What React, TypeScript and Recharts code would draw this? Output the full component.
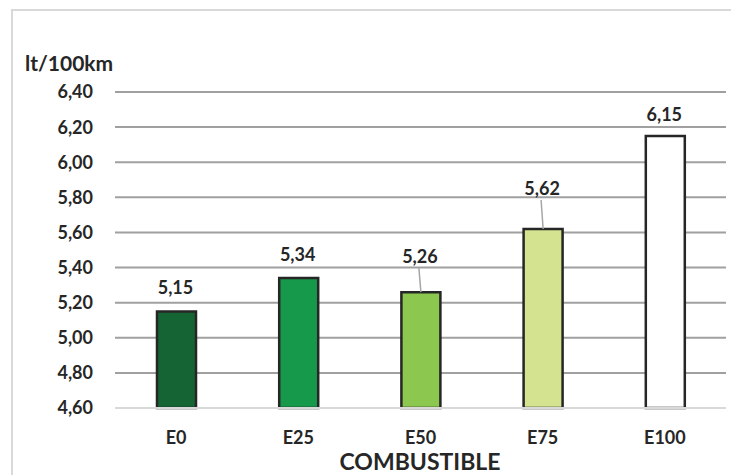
import React from "react";
import { BarChart, Bar, XAxis, YAxis, CartesianGrid, Cell, LabelList } from "recharts";

const categories = ["E0", "E25", "E50", "E75", "E100"];
const consumption = [5.15, 5.34, 5.26, 5.62, 6.15];
const yTicks = [4.6, 4.8, 5.0, 5.2, 5.4, 5.6, 5.8, 6.0, 6.2, 6.4];

const barColors = ["#156434", "#16994a", "#8cc74f", "#d3e38f", "#ffffff"];
const labelOffsets = [24, 24, 36, 41, 22];
const leaderLines = [false, false, true, true, false];

const data = categories.map((c, i) => ({ name: c, value: consumption[i] }));

const FONT = "Lato, 'Open Sans', sans-serif";
const fmt = (v: number) => v.toFixed(2).replace(".", ",");

const ValueLabel = (props: any) => {
  const { x, y, width, value, index } = props;
  const cx = x + width / 2;
  const ly = y - labelOffsets[index];
  return (
    <g>
      {leaderLines[index] && (
        <line x1={cx - 2} y1={ly + 12} x2={cx} y2={y} stroke="#a6a6a6" strokeWidth={1.5} />
      )}
      <text
        x={cx - 1}
        y={ly}
        textAnchor="middle"
        dominantBaseline="central"
        fontFamily={FONT}
        fontWeight={700}
        fontSize={18}
        fill="#262626"
      >
        {fmt(value)}
      </text>
    </g>
  );
};

export default function App() {
  return (
    <div style={{ position: "absolute", left: 0, top: 0, width: 731, height: 475, background: "#fff" }}>
      <div
        style={{
          position: "absolute",
          left: 11,
          top: 9,
          width: 740,
          height: 480,
          border: "2px solid #d9d9d9",
          boxSizing: "border-box",
        }}
      />
      <BarChart
        width={731}
        height={475}
        data={data}
        margin={{ top: 92, right: 5, bottom: 0, left: 0 }}
        style={{ position: "absolute", left: 0, top: 0 }}
      >
        <CartesianGrid vertical={false} stroke="#a0a0a0" strokeWidth={2} />
        <XAxis
          dataKey="name"
          height={67}
          axisLine={{ stroke: "#d9d9d9", strokeWidth: 2 }}
          tickLine={false}
          tickSize={0}
          tickMargin={23}
          tick={{ fontFamily: FONT, fontWeight: 700, fontSize: 18, fill: "#262626" }}
        />
        <YAxis
          domain={[4.6, 6.4]}
          ticks={yTicks}
          width={115}
          axisLine={false}
          tickLine={false}
          tickSize={0}
          tickMargin={22}
          tickFormatter={fmt}
          tick={{ fontFamily: FONT, fontWeight: 700, fontSize: 18, fill: "#262626" }}
        />
        <Bar dataKey="value" barSize={39} stroke="#262626" strokeWidth={2.5} isAnimationActive={false}>
          {data.map((d, i) => (
            <Cell key={d.name} fill={barColors[i]} />
          ))}
          <LabelList dataKey="value" content={ValueLabel} />
        </Bar>
        <text x={25} y={62} dominantBaseline="central" fontFamily={FONT} fontWeight={700} fontSize={21} fill="#262626">
          lt/100km
        </text>
        <text x={420} y={461} textAnchor="middle" dominantBaseline="central" fontFamily={FONT} fontWeight={700} fontSize={23} fill="#262626">
          COMBUSTIBLE
        </text>
      </BarChart>
    </div>
  );
}
